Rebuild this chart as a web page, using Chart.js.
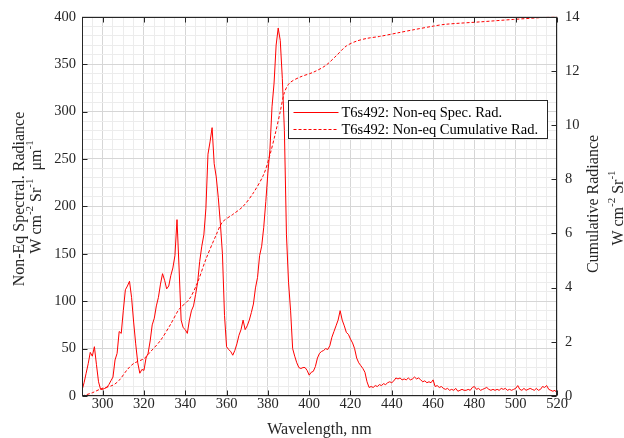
<!DOCTYPE html>
<html>
<head>
<meta charset="utf-8">
<script src="https://cdn.jsdelivr.net/npm/chart.js@4.4.1/dist/chart.umd.min.js"></script>
<style>
  html, body { margin: 0; padding: 0; background: #fff; }
</style>
</head>
<body>
<canvas id="spec-chart" width="624" height="438"></canvas>
<script>
// spectrum sampled every 1 nm starting at 290 nm
const specStartNm = 290;
const specRad = [
  6, 14, 24, 34, 46, 42, 52, 33, 15, 7,          // 290-299
  7, 8, 9, 12, 16, 20, 38, 45, 68, 66,           // 300-309
  90, 112, 116, 121, 104, 78, 55, 35, 24, 28,    // 310-319
  27, 40, 45, 58, 75, 82, 95, 104, 118, 129,     // 320-329
  122, 113, 116, 127, 135, 148, 186, 135, 80, 72,// 330-339
  70, 66, 80, 90, 95, 107, 120, 142, 158, 170,   // 340-349
  198, 255, 268, 283, 245, 231, 209, 182, 150, 85,// 350-359
  52, 49, 47, 43, 48, 55, 64, 70, 80, 70,        // 360-369
  74, 80, 88, 97, 114, 125, 148, 158, 178, 205,  // 370-379
  235, 260, 305, 330, 370, 388, 375, 335, 280, 170,// 380-389
  120, 90, 50, 42, 35, 30, 29, 30, 30, 27,       // 390-399
  22, 25, 26, 31, 40, 45, 47, 48, 50, 49,        // 400-409
  53, 62, 68, 74, 80, 90, 80, 74, 67, 65,        // 410-419
  60, 56, 50, 40, 35, 32, 29, 25, 15, 9,         // 420-429
  10, 9, 11, 10, 12, 11, 13, 12, 14, 15,         // 430-439
  14, 16, 19, 18, 19, 17, 18, 17, 19, 17,        // 440-449
  18, 20, 18, 19, 17, 15, 16, 14, 15, 14,        // 450-459
  17, 10, 11, 9, 10, 8, 7, 8, 6, 7,              // 460-469
  6, 8, 5, 6, 7, 6, 6, 7, 6, 9,                  // 470-479
  10, 7, 8, 6, 7, 8, 9, 7, 6, 7,                 // 480-489
  6, 7, 6, 8, 7, 8, 6, 7, 6, 7,                  // 490-499
  8, 11, 7, 6, 8, 6, 7, 8, 7, 6,                 // 500-509
  8, 6, 7, 10, 9, 11, 7, 6, 5, 6,                // 510-519
  3                                              // 520
];
const specWl = specRad.map((v, i) => specStartNm + i);

// cumulative radiance (right axis)
const cumWl = [290, 295, 299, 305, 308, 312, 315, 320, 323, 328, 333, 337, 342, 346, 350, 355, 358,
  363, 368, 373, 378, 381, 383.5, 386, 388, 390.5, 395.5, 402, 408, 413, 418, 423, 428, 434, 444,
  450, 460, 466, 483, 499, 515, 520];
const cumRad = [0, 0.12, 0.26, 0.40, 0.58, 0.98, 1.2, 1.38, 1.62, 2.05, 2.66, 3.2, 3.58, 4.2, 5.05, 5.95, 6.42,
  6.7, 7.0, 7.5, 8.18, 8.9, 9.65, 10.5, 11.2, 11.55, 11.77, 11.95, 12.2, 12.55, 12.92, 13.1, 13.2, 13.27, 13.42,
  13.51, 13.65, 13.72, 13.81, 13.9, 13.98, 14.0];

const xTickLabels = [300, 320, 340, 360, 380, 400, 420, 440, 460, 480, 500, 520];
const yLeftTickLabels = [0, 50, 100, 150, 200, 250, 300, 350, 400];
const yRightTickLabels = [0, 2, 4, 6, 8, 10, 12, 14];

const FONT = '"Liberation Serif", "Times New Roman", serif';
const AXIS_COLOR = '#262626';
const LINE_COLOR = '#ff0000';
const MAJOR_GRID = '#d6d6d6';
const MINOR_GRID = '#ececec';

// left/right axis titles with superscripts, drawn rotated
const drawRotated = (ctx, parts, cx, cy) => {
  ctx.save();
  ctx.translate(cx, cy);
  ctx.rotate(-Math.PI / 2);
  ctx.textBaseline = 'middle';
  ctx.fillStyle = AXIS_COLOR;
  let total = 0;
  parts.forEach(([t, sup]) => {
    ctx.font = (sup ? '11px ' : '16px ') + FONT;
    total += ctx.measureText(t).width;
  });
  let x = -total / 2;
  parts.forEach(([t, sup]) => {
    ctx.font = (sup ? '11px ' : '16px ') + FONT;
    ctx.fillText(t, x, sup ? -7 : 0);
    x += ctx.measureText(t).width;
  });
  ctx.restore();
};

const framePlugin = {
  id: 'frame',
  afterDraw(chart) {
    const { ctx, chartArea: a, scales } = chart;
    const L = Math.round(a.left) + 0.5, R = Math.round(a.right) - 0.5;
    const T = Math.round(a.top) + 0.5, B = Math.round(a.bottom) - 0.5;
    ctx.save();
    ctx.strokeStyle = AXIS_COLOR;
    ctx.lineWidth = 1;
    ctx.strokeRect(L, T, R - L, B - T);

    // inward tick marks
    ctx.beginPath();
    xTickLabels.forEach(v => {
      const px = Math.round(scales.x.getPixelForValue(v)) + 0.5;
      ctx.moveTo(px, B); ctx.lineTo(px, B - 5);
      ctx.moveTo(px, T); ctx.lineTo(px, T + 5);
    });
    yLeftTickLabels.forEach(v => {
      const py = Math.round(scales.y.getPixelForValue(v)) + 0.5;
      ctx.moveTo(L, py); ctx.lineTo(L + 5, py);
    });
    yRightTickLabels.forEach(v => {
      const py = Math.round(scales.y2.getPixelForValue(v)) + 0.5;
      ctx.moveTo(R, py); ctx.lineTo(R - 5, py);
    });
    ctx.stroke();

    // legend box
    const bx = 288.5, by = 100.5, bw = 259, bh = 38;
    ctx.fillStyle = '#fff';
    ctx.fillRect(bx, by, bw, bh);
    ctx.strokeRect(bx, by, bw, bh);
    ctx.font = '14.5px ' + FONT;
    ctx.textBaseline = 'middle';
    chart.data.datasets.forEach((ds, i) => {
      const ly = Math.round(by + 11 + i * 17);
      ctx.fillStyle = LINE_COLOR;
      if (i === 0) {
        ctx.fillRect(bx + 5, ly, 45, 1);
      } else {
        for (let sx = bx + 5; sx < bx + 50; sx += 5) ctx.fillRect(sx, ly, 3, 1);
      }
      ctx.fillStyle = '#000';
      ctx.fillText(ds.label, bx + 53, ly + 1);
    });

    drawRotated(ctx, [['Non-Eq Spectral. Radiance', false]], 20, 199);
    drawRotated(ctx, [['W cm', false], ['-2', true], [' Sr', false], ['-1', true], ['  \u03bcm', false], ['-1', true]], 37, 197);
    drawRotated(ctx, [['Cumulative Radiance', false]], 594, 204);
    drawRotated(ctx, [['W cm', false], ['-2', true], [' Sr', false], ['-1', true]], 619, 208);
    ctx.restore();
  }
};

const gridColor = (major) => (c) => (c.tick && c.tick.value % major === 0 ? MAJOR_GRID : MINOR_GRID);

new Chart(document.getElementById('spec-chart').getContext('2d'), {
  type: 'line',
  data: {
    datasets: [{
      label: 'T6s492: Non-eq Spec. Rad.',
      data: specWl.map((w, i) => ({ x: w, y: specRad[i] })),
      borderColor: LINE_COLOR,
      borderWidth: 1,
      pointRadius: 0,
      tension: 0,
      yAxisID: 'y'
    }, {
      label: 'T6s492: Non-eq Cumulative Rad.',
      data: cumWl.map((w, i) => ({ x: w, y: cumRad[i] })),
      borderColor: LINE_COLOR,
      borderWidth: 1,
      borderDash: [3, 2],
      pointRadius: 0,
      tension: 0.3,
      yAxisID: 'y2'
    }]
  },
  options: {
    responsive: false,
    animation: false,
    layout: { padding: { top: 14, left: 0, right: 0, bottom: 0 } },
    plugins: { legend: { display: false }, tooltip: { enabled: false } },
    scales: {
      x: {
        type: 'linear', min: 290, max: 520,
        ticks: {
          stepSize: 5, autoSkip: false, maxRotation: 0, minRotation: 0, padding: -1,
          color: AXIS_COLOR, font: { family: FONT, size: 14.5 },
          callback: v => (xTickLabels.includes(v) ? v : '')
        },
        grid: { color: gridColor(20), drawTicks: false },
        border: { display: false },
        title: {
          display: true, text: 'Wavelength, nm', color: AXIS_COLOR,
          font: { family: FONT, size: 16, lineHeight: 1 }, padding: { top: 0, bottom: 0 }
        },
        afterFit: s => { s.height = 42; }
      },
      y: {
        position: 'left', min: 0, max: 400,
        ticks: {
          stepSize: 10, autoSkip: false, padding: 6,
          color: AXIS_COLOR, font: { family: FONT, size: 14.5 },
          callback: v => (yLeftTickLabels.includes(v) ? v : '')
        },
        grid: { color: gridColor(50), drawTicks: false },
        border: { display: false },
        afterFit: s => { s.width = 82; }
      },
      y2: {
        position: 'right', min: 0, max: 14,
        ticks: {
          stepSize: 2, padding: 8,
          color: AXIS_COLOR, font: { family: FONT, size: 14.5 }
        },
        grid: { display: false, drawTicks: false },
        border: { display: false },
        afterFit: s => { s.width = 67; }
      }
    }
  },
  plugins: [framePlugin]
});
</script>
</body>
</html>
